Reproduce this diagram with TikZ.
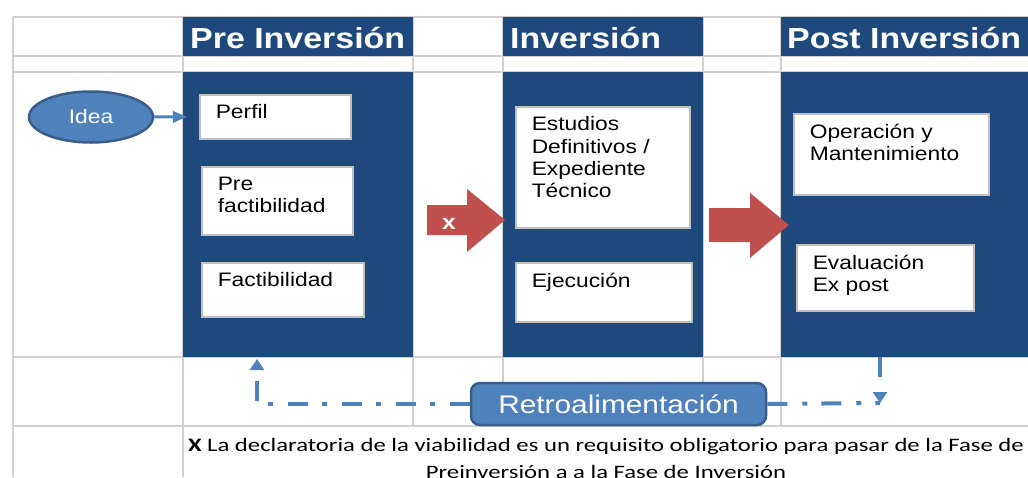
\documentclass[tikz,border=0pt]{standalone}
\usepackage{fontspec}
\setmainfont{Liberation Sans}[FakeStretch=1.17]
\newfontfamily\notefont{Carlito}[FakeStretch=1.3]
\usetikzlibrary{arrows.meta,shapes.geometric}
\definecolor{phaseblue}{HTML}{1F497D}
\definecolor{ideablue}{HTML}{4F81BD}
\definecolor{ideaedge}{HTML}{385D8A}
\definecolor{arrowred}{HTML}{C0504D}
\definecolor{gridgrey}{HTML}{D0D0D0}
\definecolor{boxgrey}{HTML}{BFBFBF}
\newcommand{\cellbox}[3]{\parbox[c][#2pt][t]{#1pt}{\raggedright #3}}
\tikzset{
	gridline/.style={draw=gridgrey, line width=1.5pt},
	phase/.style={fill=phaseblue},
	phasetitle/.style={anchor=base west, inner sep=0pt, text=white, font=\bfseries\fontsize{29}{33}\selectfont},
	stepbox/.style={draw=boxgrey, line width=1.5pt, fill=white, anchor=north west, inner xsep=16pt, inner ysep=10pt, font=\fontsize{19.5}{22.3}\selectfont},
	idea/.style={ellipse, fill=ideablue, draw=ideaedge, line width=2.5pt, minimum width=124pt, minimum height=51pt, inner sep=0pt, text=white, font=\fontsize{19.5}{22}\selectfont},
	ideaarrow/.style={draw=ideablue, line width=3pt, -{Triangle[length=14pt,width=11pt]}, shorten >=12pt},
	retro/.style={rectangle, rounded corners=9pt, fill=ideablue, draw=ideaedge, line width=2.5pt, minimum width=295pt, minimum height=42pt, inner sep=0pt, text=white, font=\fontsize{25.5}{28}\selectfont},
	feedback/.style={draw=ideablue, line width=4pt, dash pattern=on 20pt off 15pt on 5pt off 14pt},
	fbtip/.style={-{Triangle[length=11pt,width=14pt]}},
	note/.style={align=center, inner sep=0pt, font=\notefont\fontsize{19}{27}\selectfont}
}

\begin{document}
\begin{tikzpicture}[x=1pt, y=-1pt]
		\useasboundingbox (0,0) rectangle (1028,477);
		\clip (0,0) rectangle (1028,477);
		
		%%%%% TABLE %%%%%
		\foreach \y in {17,56,72,357,426}
			\draw[gridline] (13,\y) -- (1028,\y);
		\draw[gridline] (13,17) -- (13,477);
		\draw[gridline] (183,17) -- (183,477);
		\foreach \x in {413,503,703,781}
			\draw[gridline] (\x,17) -- (\x,426);
		
		%%%%% PHASES %%%%%
		\fill[phase] (183,17) rectangle (413,56);
		\fill[phase] (183,72) rectangle (413,357);
		\fill[phase] (503,17) rectangle (703,56);
		\fill[phase] (503,72) rectangle (703,357);
		\fill[phase] (781,17) rectangle (1030,56);
		\fill[phase] (781,72) rectangle (1030,357);
		
		\node[phasetitle] (pretitle) at (190,48) {Pre Inversión};
		\node[phasetitle] (invtitle) at (510,48) {Inversión};
		\node[phasetitle] (posttitle) at (787,48) {Post Inversión};
		
		%%%%% STEPS %%%%%
		\node[stepbox] (perfil) at (199,94) {\cellbox{119}{24}{Perfil}};
		\node[stepbox] (prefact) at (201,166) {\cellbox{119}{48}{Pre\\factibilidad}};
		\node[stepbox] (fact) at (201,262) {\cellbox{130}{34}{Factibilidad}};
		\node[stepbox] (estudios) at (515,106) {\cellbox{142}{101}{Estudios\\Definitivos /\\Expediente\\Técnico}};
		\node[stepbox] (ejecucion) at (515,262) {\cellbox{144}{39}{Ejecución}};
		\node[stepbox] (operacion) at (793,113) {\cellbox{163}{61}{Operación y\\Mantenimiento}};
		\node[stepbox] (evaluacion) at (796,244) {\cellbox{145}{46}{Evaluación\\Ex post}};
		
		\node[idea] (idea) at (91,117) {Idea};
		\draw[ideaarrow] (idea) -- (perfil);
		
		%%%%% RED ARROWS %%%%%
		\fill[arrowred] (427,205) -- (467,205) -- (467,189) -- (505,220) -- (467,252) -- (467,235) -- (427,235) -- cycle;
		\node[text=white, font=\bfseries\fontsize{21}{22}\selectfont] (xmark) at (449,224) {x};
		\fill[arrowred] (709,208) -- (750,208) -- (750,193) -- (789,225) -- (750,258) -- (750,242) -- (709,242) -- cycle;
		
		%%%%% FEEDBACK %%%%%
		\node[retro] (retro) at (618.5,404) {Retroalimentación};
		\coordinate (fbtopR) at (880,357);
		\coordinate (fbcornerR) at (880,403);
		\coordinate (fbtopL) at (257,359);
		\draw[feedback, fbtip] (fbtopR) -- (fbcornerR);
		\draw[feedback] (retro.east) -- (fbcornerR);
		\draw[feedback, fbtip] (retro.west) -| (fbtopL);
		
		%%%%% NOTE %%%%%
		\node[note, anchor=north] (note) at (606,438) {\textbf{X} La declaratoria de la viabilidad es un requisito obligatorio para pasar de la Fase de\\Preinversión a a la Fase de Inversión};
	\end{tikzpicture}
\end{document}
